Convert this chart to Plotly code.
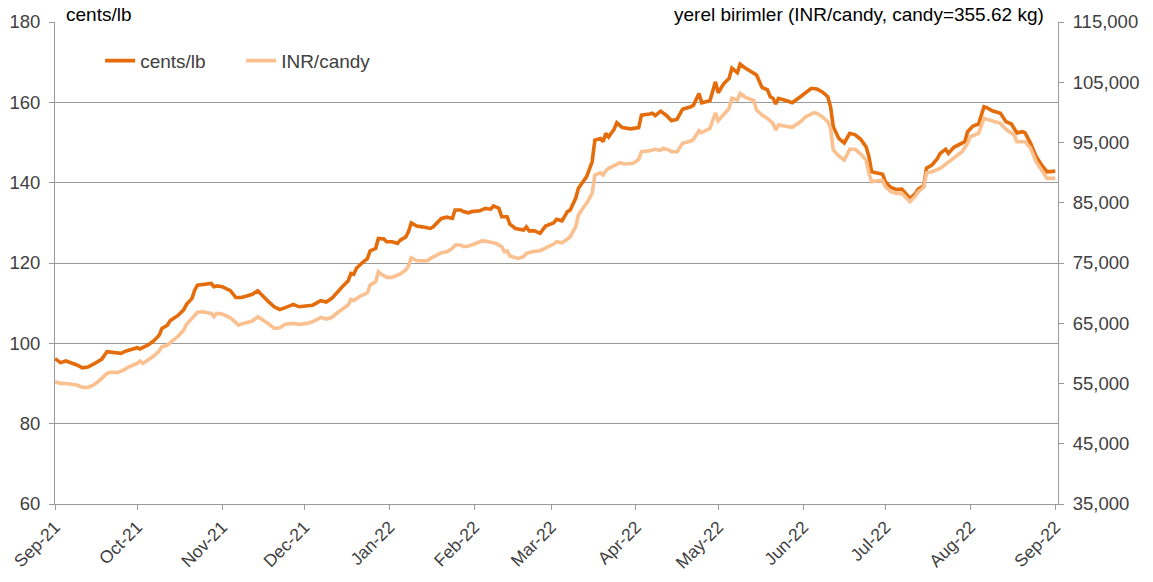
import pandas as pd
import plotly.graph_objects as go

START = "2021-09-01"

# cents/lb series: day offset from START, value
cents_days = [0, 2, 4, 6, 8, 10, 12, 14, 17, 19, 22, 24, 26, 28, 30, 31, 33, 34, 36, 38,
              39, 41, 42, 44, 45, 47, 48, 50, 51, 52, 54, 57, 58, 59, 61, 64, 66, 68, 70, 72,
              74, 76, 78, 80, 82, 84, 87, 89, 92, 94, 97, 99, 101, 103, 105, 107, 108, 109, 110, 112,
              114, 115, 117, 118, 120, 121, 123, 125, 126, 128, 129, 130, 132, 134, 137, 138, 141, 143, 145, 146,
              148, 149, 151, 152, 155, 157, 159, 160, 162, 163, 165, 166, 168, 171, 172, 173, 175, 177, 179, 182,
              183, 185, 187, 188, 190, 191, 194, 196, 197, 199, 200, 201, 202, 204, 205, 207, 210, 213, 214, 217,
              218, 219, 221, 223, 225, 227, 229, 232, 233, 235, 236, 239, 241, 242, 244, 246, 247, 249, 250, 252,
              254, 256, 258, 260, 261, 262, 263, 264, 267, 269, 272, 274, 276, 278, 280, 282, 283, 284, 286, 288,
              290, 292, 294, 296, 297, 298, 300, 302, 303, 305, 307, 309, 312, 314, 315, 317, 318, 320, 322, 323,
              325, 326, 328, 330, 332, 333, 335, 337, 339, 340, 342, 345, 347, 349, 351, 353, 354, 356, 358, 360,
              362, 364, 365]
cents_vals = [96.2, 95.2, 95.6, 95.2, 94.6, 93.9, 94.1, 94.8, 96.0, 97.9, 97.7, 97.5, 98.1, 98.5, 98.9, 98.6, 99.3, 99.6, 100.6, 102.0,
              103.7, 104.5, 105.6, 106.6, 107.0, 108.4, 109.7, 111.2, 113.3, 114.5, 114.7, 114.9, 114.1, 114.3, 114.1, 113.1, 111.4, 111.4, 111.8, 112.2,
              113.1, 111.6, 110.3, 109.1, 108.4, 108.9, 109.7, 109.1, 109.3, 109.5, 110.6, 110.3, 111.2, 112.8, 114.2, 115.6, 117.4, 117.2, 118.7, 120.0,
              121.1, 123.0, 123.6, 126.1, 126.0, 125.3, 125.3, 124.9, 125.7, 126.5, 127.8, 130.0, 129.2, 129.0, 128.6, 129.0, 131.1, 131.4, 131.1, 133.2,
              133.2, 132.8, 132.5, 132.8, 133.0, 133.6, 133.4, 134.2, 133.6, 131.5, 131.5, 129.7, 128.6, 128.2, 129.0, 128.0, 128.0, 127.4, 129.2, 130.0,
              130.9, 130.5, 132.8, 133.2, 136.1, 138.6, 141.5, 145.2, 150.6, 151.0, 150.2, 152.3, 151.4, 153.3, 154.9, 153.7, 153.4, 153.7, 156.8, 157.1,
              157.3, 156.7, 157.8, 156.8, 155.4, 155.8, 158.3, 158.9, 159.3, 162.2, 159.9, 160.4, 165.1, 162.4, 164.6, 166.0, 168.5, 167.4, 169.5, 168.5,
              167.6, 166.8, 163.7, 163.1, 161.4, 161.0, 159.6, 161.0, 160.4, 159.9, 161.4, 162.4, 163.5, 163.3, 162.6, 161.4, 158.9, 153.9, 151.0, 149.9,
              152.3, 151.9, 150.8, 148.9, 146.5, 142.7, 142.5, 142.1, 140.2, 138.8, 138.3, 138.4, 136.1, 137.3, 138.4, 139.2, 143.6, 144.4, 146.0, 147.3,
              148.3, 147.3, 148.8, 149.6, 150.2, 152.7, 154.1, 154.6, 158.9, 158.7, 157.9, 157.3, 155.2, 154.6, 152.4, 152.7, 152.4, 149.8, 146.5, 144.4,
              142.7, 142.8, 142.9]

# INR/candy series: day offset from START, value
inr_days = [0, 2, 4, 6, 8, 10, 12, 14, 16, 19, 20, 23, 25, 27, 29, 30, 31, 32, 33, 34,
            36, 38, 39, 41, 42, 44, 45, 47, 48, 50, 52, 54, 57, 58, 59, 61, 64, 65, 67, 68,
            70, 72, 74, 76, 78, 80, 82, 84, 87, 89, 92, 94, 97, 99, 101, 103, 105, 107, 108, 109,
            111, 114, 115, 117, 118, 119, 121, 123, 126, 128, 129, 130, 132, 134, 136, 137, 139, 141, 143, 145,
            146, 148, 149, 151, 153, 156, 159, 161, 163, 164, 165, 166, 169, 171, 172, 174, 177, 179, 182, 183,
            185, 187, 188, 190, 191, 193, 194, 196, 197, 199, 200, 201, 202, 205, 206, 208, 211, 213, 214, 217,
            219, 221, 222, 224, 225, 227, 229, 232, 233, 235, 236, 239, 241, 242, 244, 246, 247, 249, 250, 252,
            255, 256, 258, 260, 262, 263, 264, 267, 269, 272, 274, 277, 278, 280, 282, 283, 284, 286, 288, 290,
            292, 294, 296, 297, 298, 300, 302, 303, 305, 307, 309, 312, 314, 315, 317, 318, 320, 323, 325, 326,
            329, 331, 333, 334, 337, 339, 340, 342, 345, 347, 350, 351, 354, 356, 358, 360, 362, 364, 365]
inr_vals = [55290, 55020, 55000, 54910, 54740, 54360, 54360, 54740, 55410, 56680, 56850, 56850, 57230, 57780, 58060, 58340, 58730, 58340, 58610, 58890,
            59560, 60390, 61100, 61380, 61760, 62660, 62880, 63870, 64820, 65810, 66810, 66910, 66640, 66080, 66640, 66530, 65910, 65530, 64700, 64870,
            65150, 65370, 66080, 65530, 64870, 64150, 64250, 64820, 64980, 64820, 64980, 65250, 65980, 65700, 65980, 66740, 67470, 68020, 68970, 68740,
            69400, 70060, 71340, 71890, 73550, 73170, 72620, 72620, 73170, 73830, 74500, 75870, 75380, 75380, 75380, 75770, 76160, 76700, 76870, 77430,
            77980, 77980, 77700, 77820, 78150, 78700, 78430, 78260, 77700, 76870, 76990, 76160, 75770, 76040, 76600, 76870, 77040, 77430, 78150, 78530,
            78360, 78980, 79360, 81020, 82960, 84340, 84900, 86560, 89600, 89980, 89600, 90320, 90710, 91380, 91640, 91430, 91540, 92210, 93470, 93640,
            93870, 93700, 94030, 93750, 93470, 93470, 94860, 95250, 95530, 96960, 96620, 97350, 99940, 98620, 99730, 100670, 102330, 102050, 103160, 102500,
            101940, 100390, 99560, 99010, 98180, 97070, 97900, 97620, 97520, 98450, 99280, 99940, 99840, 99280, 98450, 97350, 93750, 92760, 92090, 93870,
            93870, 93090, 92090, 89880, 88490, 88660, 88660, 87660, 86830, 86560, 86560, 85170, 86120, 86830, 87560, 89980, 90150, 90710, 91430, 91810,
            92920, 93470, 94860, 95960, 96520, 99010, 98850, 98620, 98180, 97190, 96240, 95130, 95130, 94030, 91810, 90430, 89050, 89050, 89050]

start = pd.Timestamp(START)
cents_dates = [start + pd.Timedelta(days=d) for d in cents_days]
inr_dates = [start + pd.Timedelta(days=d) for d in inr_days]

DARK = "#E46C0A"
LIGHT = "#FAC090"
FONT = "Liberation Sans, Arial, sans-serif"
GRID = "#9a9a9a"
TXT = "#404040"

fig = go.Figure()
fig.add_trace(go.Scatter(x=cents_dates, y=cents_vals, name="cents/lb", mode="lines",
                         line=dict(color=DARK, width=3.6), yaxis="y"))
fig.add_trace(go.Scatter(x=inr_dates, y=inr_vals, name="INR/candy", mode="lines",
                         line=dict(color=LIGHT, width=3.6), yaxis="y2"))

fig.update_layout(
    width=1153, height=582,
    margin=dict(l=55, r=95, t=22, b=78, autoexpand=False),
    paper_bgcolor="white", plot_bgcolor="white",
    font=dict(family=FONT, size=18, color=TXT),
    showlegend=True,
    legend=dict(orientation="h", x=0.045, y=0.959, xanchor="left", yanchor="top",
                bgcolor="rgba(0,0,0,0)", font=dict(size=19, color=TXT),
                entrywidth=96, entrywidthmode="pixels", itemwidth=30),
    xaxis=dict(type="date", range=["2021-09-01", "2022-09-02"], automargin=False,
               tick0="2021-09-01", dtick="M1", tickformat="%b-%y", tickangle=-45,
               showgrid=False, showline=True, linecolor=GRID, linewidth=1,
               ticks="outside", ticklen=5, tickcolor=GRID,
               tickfont=dict(size=17.5, color=TXT), zeroline=False),
    yaxis=dict(range=[60, 180], dtick=20, tick0=60, showgrid=True, gridcolor=GRID, gridwidth=1,
               showline=True, linecolor=GRID, linewidth=1, ticks="outside", ticklen=5,
               ticklabelstandoff=5,
               automargin=False, tickcolor=GRID, tickfont=dict(size=18.5, color=TXT), zeroline=False),
    yaxis2=dict(range=[35000, 115000], dtick=10000, tick0=35000, tickformat=",", overlaying="y",
                side="right", automargin=False, ticklabelstandoff=5,
                showgrid=False, showline=True, linecolor=GRID, linewidth=1, ticks="outside",
                ticklen=5, tickcolor=GRID, tickfont=dict(size=18.5, color=TXT), zeroline=False),
    annotations=[
        dict(text="cents/lb", x=0.009, y=1.0, xref="paper", yref="paper", xanchor="left",
             yanchor="bottom", showarrow=False, font=dict(size=19, color="#000000"), yshift=-5),
        dict(text="yerel birimler (INR/candy, candy=355.62 kg)", x=0.988, y=1.0, xref="paper",
             yref="paper", xanchor="right", yanchor="bottom", showarrow=False,
             font=dict(size=19, color="#000000"), yshift=-5),
    ],
)

# remove the page's default body margin so the figure fills the window exactly
fig.write_html("out.html", config={"displayModeBar": False},
               post_script="document.body.style.margin='0px';")
